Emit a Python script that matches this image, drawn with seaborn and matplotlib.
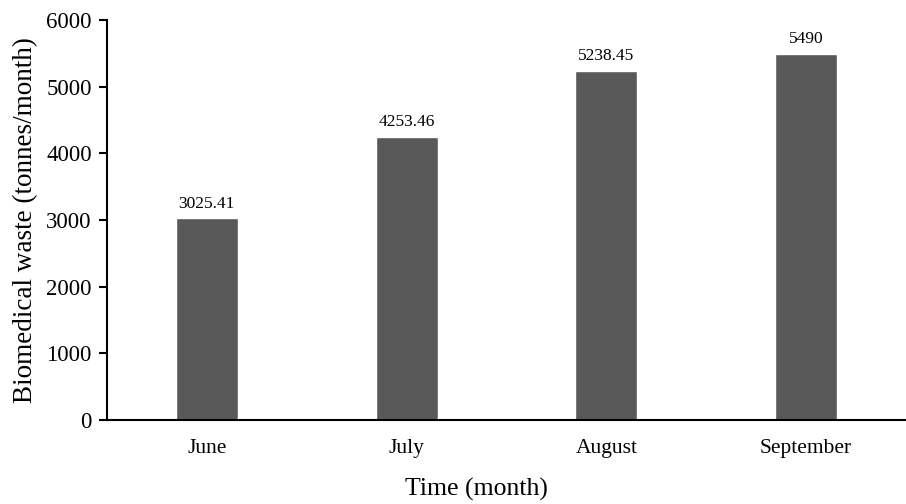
import matplotlib
matplotlib.use("Agg")
import matplotlib.pyplot as plt
import seaborn as sns
import pandas as pd

# Data
months = ["June", "July", "August", "September"]
waste = [3025.41, 4253.46, 5238.45, 5490]
bar_labels = ["3025.41", "4253.46", "5238.45", "5490"]
y_ticks = [0, 1000, 2000, 3000, 4000, 5000, 6000]

df = pd.DataFrame({"Month": months, "Waste": waste})

sns.set_style("white")
plt.rcParams['font.family'] = ['Liberation Serif', 'DejaVu Serif']
# plain black text like the original
plt.rcParams['text.color'] = 'black'
plt.rcParams['axes.labelcolor'] = 'black'
plt.rcParams['xtick.color'] = 'black'
plt.rcParams['ytick.color'] = 'black'

fig = plt.figure(figsize=(9.06, 5.04), dpi=100)
ax = fig.add_axes([0.118, 0.167, 0.882, 0.793])

sns.barplot(data=df, x="Month", y="Waste", color="#595959", width=0.31,
            saturation=1, ax=ax)

# value labels above bars
for patch, lab in zip(ax.patches, bar_labels):
    ax.text(patch.get_x() + patch.get_width() / 2, patch.get_height() + 100, lab,
            ha="center", va="bottom", fontsize=12.5)

ax.set_ylim(0, 6000)
ax.set_yticks(y_ticks)
ax.set_xlim(-0.5, 3.5)
sns.despine(ax=ax)
for side in ['left', 'bottom']:
    ax.spines[side].set_linewidth(1.5)
    ax.spines[side].set_color('black')
ax.tick_params(axis='y', direction='out', length=6, width=1.5, left=True, labelsize=16.5, pad=5)
ax.tick_params(axis='x', bottom=False, labelsize=15.5, pad=10)

ax.set_xlabel("Time (month)", fontsize=18.5)
ax.xaxis.set_label_coords(0.462, -0.145)
ax.set_ylabel("Biomedical waste (tonnes/month)", fontsize=19.5, labelpad=6)

fig.savefig("out.png", dpi=100)
